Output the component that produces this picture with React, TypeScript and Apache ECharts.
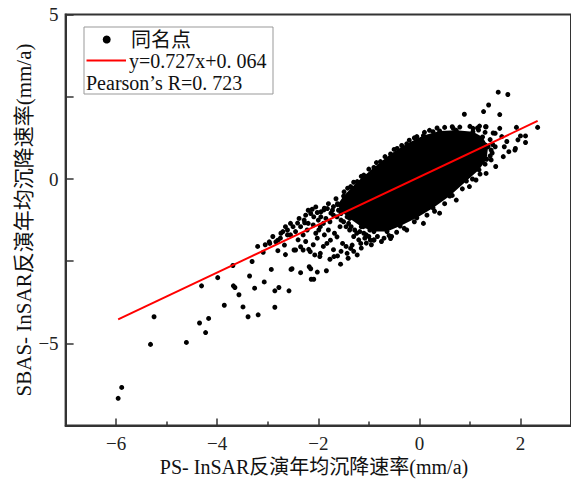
import React, { useEffect, useRef } from "react";
import * as echarts from "echarts";

const X_MIN = -7;
const X_MAX = 3;
const Y_MIN = -7.5;
const Y_MAX = 5;
const X_MAJOR_TICKS = [-6, -4, -2, 0, 2];
const X_MINOR_TICKS = [-5, -3, -1, 1];

const LEGEND_POINTS = "同名点";
const LEGEND_FIT = "y=0.727x+0. 064";
const LEGEND_R = "Pearson’s R=0. 723";
const X_TITLE = "PS- InSAR反演年均沉降速率(mm/a)";
const Y_TITLE = "SBAS- InSAR反演年均沉降速率(mm/a)";

// regression line endpoints
const FIT_X = [-5.96, 2.34];
const FIT_Y = [-4.27, 1.765];

// outline of the dense (saturated) core of the point cloud
const CORE_OUTLINE: number[][] = [
  [-1.62, -0.78], [-1.5, -0.52], [-1.23, -0.08], [-0.9, 0.35], [-0.57, 0.76],
  [-0.25, 1.07], [0.08, 1.32], [0.4, 1.46], [0.73, 1.48], [1.06, 1.44],
  [1.25, 1.28], [1.36, 0.98], [1.33, 0.6], [1.18, 0.28], [0.93, -0.06],
  [0.6, -0.52], [0.27, -0.88], [-0.05, -1.18], [-0.38, -1.43], [-0.64, -1.6],
  [-0.9, -1.6], [-1.15, -1.45], [-1.38, -1.2], [-1.55, -0.98],
];

// individual points outside / at the edge of the dense core
const POINTS_LOWER: number[][] = [
  [-5.96, -6.67], [-5.89, -6.34], [-5.32, -5.03], [-5.25, -4.19], [-4.61, -4.97],
  [-4.35, -4.38], [-4.23, -4.67], [-4.17, -4.24], [-4.31, -3.25], [-3.99, -3.0],
  [-3.86, -3.84], [-3.69, -2.63], [-3.68, -3.25], [-3.65, -3.3], [-3.57, -3.52],
  [-3.49, -3.89], [-3.39, -4.19], [-3.19, -4.13], [-3.36, -2.95], [-3.31, -2.51],
  [-3.26, -3.32], [-3.07, -3.13], [-2.93, -2.75], [-2.86, -3.9], [-2.86, -3.4],
  [-2.78, -3.3], [-2.58, -3.4], [-2.54, -2.75], [-2.52, -2.73], [-2.35, -2.85],
  [-2.15, -2.73], [-2.14, -3.05], [-2.09, -3.05], [-2.02, -2.83], [-1.84, -2.79],
  [-1.56, -2.59],
];

const POINTS_MID: number[][] = [
  [-2.96, -1.96], [-2.8, -2.18], [-2.67, -2.01], [-3.09, -2.23], [-2.84, -1.91],
  [-2.48, -2.16], [-2.61, -1.7], [-2.18, -2.67], [-2.35, -2.06], [-2.16, -2.21],
  [-1.96, -2.26], [-1.69, -2.36], [-1.43, -2.26], [-2.02, -1.8], [-1.83, -1.96],
  [-1.63, -1.76], [-1.33, -2.01], [-1.08, -1.8], [-2.22, -1.55], [-1.96, -1.45],
  [-1.77, -1.3], [-1.57, -1.45], [-1.38, -1.55], [-1.24, -1.65], [-2.28, -1.25],
  [-2.09, -1.15], [-1.89, -0.94], [-1.7, -0.84], [-1.43, -1.15], [-2.61, -1.55],
  [-2.8, -1.86], [-2.97, -1.91], [-2.74, -1.65], [-2.55, -1.7], [-2.41, -1.34],
  [-1.63, -1.15], [-1.5, -0.84], [-1.11, -1.45], [-0.98, -1.55], [-0.85, -1.34],
  [-2.27, -1.33], [-1.99, -1.55], [-1.88, -1.7], [-1.76, -1.86], [-1.68, -1.65],
  [-1.52, -1.96], [-1.36, -2.11], [-1.16, -1.96], [-0.97, -1.86], [-0.83, -1.75],
  [-2.02, -1.02], [-1.88, -0.89], [-1.75, -1.04], [-1.55, -1.25], [-2.07, -2.31],
  [-1.97, -2.36], [-1.77, -2.44], [-1.62, -2.34], [-1.41, -2.41], [-1.23, -2.31],
  [-2.3, -2.16], [-2.19, -2.14], [-2.45, -2.16], [-1.85, -1.2], [-1.7, -1.1],
  [-1.6, -0.95], [-1.8, -0.75], [-1.65, -0.6], [-1.5, -1.3], [-1.45, -1.45],
  [-1.3, -1.75], [-1.2, -1.85], [-1.05, -1.7], [-0.9, -1.85], [-0.7, -1.8],
  [-0.55, -1.75], [-1.95, -1.15], [-2.15, -1.05], [-2.2, -0.95], [-2.05, -0.85],
  [-2.9, -1.75], [-2.75, -1.8], [-2.7, -1.6], [-2.5, -1.45], [-2.45, -1.6],
  [-2.35, -1.45], [-2.3, -1.7], [-2.2, -1.35], [-2.1, -1.4], [-2.05, -1.65],
  [-2.0, -1.25], [-1.95, -1.0], [-1.9, -1.35], [-1.8, -1.55], [-1.82, -0.9],
  [-1.72, -0.95], [-1.62, -0.75], [-1.55, -1.05], [-1.48, -0.95], [-1.4, -1.35],
  [-1.35, -1.45], [-1.28, -1.55], [-1.18, -1.6], [-1.1, -1.65], [-1.0, -1.75],
  [-2.12, -0.92], [-2.25, -1.1], [-2.38, -1.2], [-2.55, -1.35], [-2.65, -1.45],
  [-2.4, -1.85], [-2.25, -1.9], [-2.1, -2.0], [-1.9, -2.05], [-1.7, -2.15],
  [-1.55, -2.2], [-1.45, -2.05], [-1.3, -2.2], [-1.15, -2.1], [-0.95, -2.0],
  [-3.2, -2.05], [-3.05, -2.0], [-2.65, -2.3],
];

const POINTS_EDGE: number[][] = [
  [-1.49, -0.39], [-1.36, -0.23], [-1.1, 0.12], [-0.77, 0.53], [-0.44, 0.93],
  [-0.05, 1.29], [0.27, 1.44], [0.67, 1.54], [0.99, -0.23], [0.73, -0.64],
  [0.4, -1.04], [0.08, -1.35], [-0.25, -1.55], [-0.57, -1.81], [-0.9, -1.86],
  [-0.75, -1.9], [-1.05, -1.95],
  [-1.42, -0.28], [-1.3, -0.1], [-1.15, 0.08], [-1.0, 0.3], [-0.85, 0.5],
  [-0.68, 0.68], [-0.5, 0.9], [-0.35, 1.02], [-0.2, 1.18], [-0.1, 1.25],
  [0.1, 1.42], [0.2, 1.48], [0.35, 1.55], [0.5, 1.57], [0.8, 1.58],
  [1.0, 1.6], [1.15, 1.55], [1.3, 1.42], [1.4, 1.2], [1.45, 1.05],
  [1.42, 0.88], [1.4, 0.7], [1.3, 0.45], [1.2, 0.15], [1.05, 0.0],
  [0.85, -0.3], [0.65, -0.5], [0.5, -0.75], [0.3, -0.98], [0.15, -1.1],
  [-0.1, -1.3], [-0.3, -1.5], [-0.45, -1.62], [-0.6, -1.72],
];

const POINTS_UPPER: number[][] = [
  [1.56, 2.64], [1.75, 2.57], [1.37, 2.25], [1.27, 2.05], [0.89, 1.97],
  [1.59, 1.96], [2.34, 1.57], [1.92, 1.57], [2.1, 1.31], [2.1, 1.11],
  [2.0, 1.31], [1.9, 0.93], [1.77, 0.83], [1.68, 0.98], [1.59, 1.54],
  [1.32, 1.59], [1.19, 1.61], [1.66, 0.68], [1.5, 1.39], [0.65, 1.59],
  [1.06, 1.54], [1.42, 0.58], [1.95, 1.19], [1.89, 0.88], [1.73, 1.14],
  [1.63, 1.29], [1.5, 0.98], [1.44, 0.79], [1.46, 1.4], [1.31, 1.03],
  [1.17, 1.49], [1.31, 1.59], [1.51, 0.38], [1.32, 0.17], [1.12, -0.03],
];

const FONT = "'Liberation Serif', 'Noto Sans CJK SC', serif";
const FS = 19;
const LFS = 20;

const fmtMinus = (v: number) => String(v).replace("-", "\u2212");

export default function App() {
  const ref = useRef<HTMLDivElement>(null);

  useEffect(() => {
    if (!ref.current) return;
    const chart = echarts.init(ref.current, undefined, { renderer: "svg" });
    const allPoints = [...POINTS_LOWER, ...POINTS_MID, ...POINTS_EDGE, ...POINTS_UPPER];

    const option: any = {
      animation: false,
      backgroundColor: "#fff",
      grid: {
        left: 65.6,
        top: 14.6,
        width: 511,
        height: 411,
        show: true,
        borderColor: "#333",
        borderWidth: 2,
        backgroundColor: "transparent",
      },
      xAxis: [
        {
          type: "value",
          min: X_MIN,
          max: X_MAX,
          interval: 1,
          position: "bottom",
          axisLine: { show: true, onZero: false, lineStyle: { color: "#333", width: 2 } },
          axisTick: {
            show: true,
            inside: true,
            length: 7,
            customValues: X_MAJOR_TICKS,
            lineStyle: { color: "#333", width: 1.5 },
          },
          axisLabel: {
            customValues: X_MAJOR_TICKS,
            formatter: (v: number) => fmtMinus(v),
            fontFamily: FONT,
            fontSize: FS,
            color: "#222",
            margin: 8,
          },
          splitLine: { show: false },
        },
        {
          type: "value",
          min: X_MIN,
          max: X_MAX,
          interval: 1,
          position: "bottom",
          axisLine: { show: false, onZero: false },
          axisTick: {
            show: true,
            inside: true,
            length: 4,
            customValues: X_MINOR_TICKS,
            lineStyle: { color: "#333", width: 1.5 },
          },
          axisLabel: { show: false },
          splitLine: { show: false },
        },
      ],
      yAxis: {
        type: "value",
        min: Y_MIN,
        max: Y_MAX,
        interval: 2.5,
        axisLine: { show: true, onZero: false, lineStyle: { color: "#333", width: 2 } },
        axisTick: { show: true, inside: true, length: 8, lineStyle: { color: "#333", width: 1.5 } },
        axisLabel: {
          formatter: (v: number) => (v % 5 === 0 ? fmtMinus(v) : ""),
          fontFamily: FONT,
          fontSize: FS,
          color: "#222",
          margin: 7,
        },
        splitLine: { show: false },
      },
      series: [
        {
          type: "custom",
          name: "core",
          xAxisIndex: 0,
          data: [[0, 0]],
          clip: true,
          silent: true,
          renderItem: (params: any, api: any) => {
            if (params.dataIndex !== 0) return null;
            return {
              type: "polygon",
              shape: { points: CORE_OUTLINE.map((p) => api.coord(p)) },
              style: { fill: "#000" },
            };
          },
          z: 2,
        },
        {
          type: "scatter",
          name: LEGEND_POINTS,
          xAxisIndex: 0,
          data: [...allPoints, ...CORE_OUTLINE],
          symbol: "circle",
          symbolSize: 5,
          itemStyle: { color: "#000", opacity: 1 },
          z: 3,
        },
        {
          type: "line",
          name: "fit",
          xAxisIndex: 0,
          data: FIT_X.map((x, i) => [x, FIT_Y[i]]),
          symbol: "none",
          lineStyle: { color: "#ff0000", width: 2 },
          z: 5,
        },
      ],
      graphic: [
        {
          type: "rect",
          z: 100,
          shape: { x: 84, y: 27, width: 189, height: 67 },
          style: { fill: "#fff", stroke: "#999", lineWidth: 1 },
        },
        {
          type: "circle",
          z: 101,
          shape: { cx: 106.7, cy: 39.5, r: 4 },
          style: { fill: "#000" },
        },
        {
          type: "text",
          z: 101,
          x: 131,
          y: 40,
          style: { text: LEGEND_POINTS, font: `${LFS}px ${FONT}`, fill: "#111", verticalAlign: "middle" },
        },
        {
          type: "line",
          z: 101,
          shape: { x1: 86.5, y1: 60.5, x2: 126, y2: 60.5 },
          style: { stroke: "#ff0000", lineWidth: 2 },
        },
        {
          type: "text",
          z: 101,
          x: 129,
          y: 61,
          style: { text: LEGEND_FIT, font: `${LFS}px ${FONT}`, fill: "#111", verticalAlign: "middle" },
        },
        {
          type: "text",
          z: 101,
          x: 86,
          y: 82.5,
          style: { text: LEGEND_R, font: `${LFS}px ${FONT}`, fill: "#111", verticalAlign: "middle" },
        },
        {
          type: "text",
          z: 101,
          x: 314,
          y: 467,
          style: {
            text: X_TITLE,
            font: `20px ${FONT}`,
            fill: "#111",
            align: "center",
            verticalAlign: "middle",
          },
        },
        {
          type: "text",
          z: 101,
          x: 24,
          y: 220,
          rotation: Math.PI / 2,
          style: {
            text: Y_TITLE,
            font: `21px ${FONT}`,
            fill: "#111",
            align: "center",
            verticalAlign: "middle",
          },
        },
      ],
    };

    chart.setOption(option);
    return () => chart.dispose();
  }, []);

  return (
    <div
      ref={ref}
      style={{ position: "fixed", left: 0, top: 0, width: 571, height: 484, background: "#fff" }}
    />
  );
}
